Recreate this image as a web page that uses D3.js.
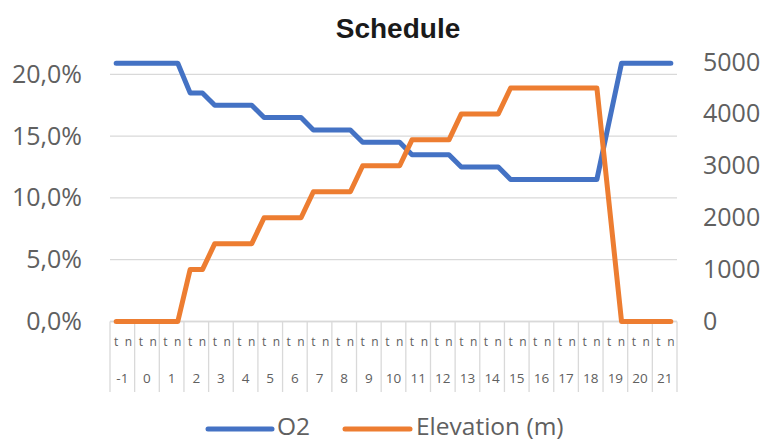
<!DOCTYPE html>
<html>
<head>
<meta charset="utf-8">
<script src="https://cdn.jsdelivr.net/npm/d3@7"></script>
<style>
  html, body { margin: 0; padding: 0; background: #ffffff; }
  svg { display: block; }
</style>
</head>
<body>
<svg id="chart" width="765" height="441"></svg>
<script>
// Group labels (outer category level) and sub-labels (inner level)
const groups = ["-1","0","1","2","3","4","5","6","7","8","9","10","11","12","13","14","15","16","17","18","19","20","21"];
const subs = ["t", "n"];

// O2 fraction per sub-category (null = no value, line bridges it)
const o2 = [
  0.209, 0.209, 0.209, 0.209, 0.209, 0.209,
  0.185, 0.185,
  0.175, 0.175, 0.175, 0.175,
  0.165, 0.165, 0.165, 0.165,
  0.155, 0.155, 0.155, 0.155,
  0.145, 0.145, 0.145, 0.145,
  0.135, 0.135, 0.135, 0.135,
  0.125, 0.125, 0.125, 0.125,
  0.115, 0.115, 0.115, 0.115, 0.115, 0.115, 0.115, 0.115,
  null,
  0.209, 0.209, 0.209, 0.209, 0.209
];

// Elevation in metres per sub-category
const elevation = [
  0, 0, 0, 0, 0, 0,
  1000, 1000,
  1500, 1500, 1500, 1500,
  2000, 2000, 2000, 2000,
  2500, 2500, 2500, 2500,
  3000, 3000, 3000, 3000,
  3500, 3500, 3500, 3500,
  4000, 4000, 4000, 4000,
  4500, 4500, 4500, 4500, 4500, 4500, 4500, 4500,
  null,
  0, 0, 0, 0, 0
];

const leftTicks = [0, 0.05, 0.10, 0.15, 0.20];
const rightTicks = [0, 1000, 2000, 3000, 4000, 5000];

const seriesNames = ["O2", "Elevation (m)"];
const colors = ["#4472C4", "#ED7D31"];

const svg = d3.select("#chart");
const plot = { left: 110, right: 677, top: 62, bottom: 321.5 };

// Flattened category keys: one per (group, sub) pair
const keys = [];
groups.forEach(g => subs.forEach(s => keys.push(g + "|" + s)));

const x = d3.scaleBand().domain(keys).range([plot.left, plot.right]).paddingInner(0).paddingOuter(0);
const xg = d3.scaleBand().domain(groups).range([plot.left, plot.right]).paddingInner(0).paddingOuter(0);
const yL = d3.scaleLinear().domain([0, 0.21]).range([plot.bottom, plot.top]);
const yR = d3.scaleLinear().domain([0, 5000]).range([plot.bottom, plot.top]);

const labelFont = "'Open Sans', 'Noto Sans', sans-serif";
const labelColor = "#606060";
const gridColor = "#d9d9d9";

// Title
svg.append("text")
  .attr("x", 398).attr("y", 38)
  .attr("text-anchor", "middle")
  .attr("font-family", "'Liberation Sans', Arial, sans-serif")
  .attr("font-weight", "bold")
  .attr("font-size", 28)
  .attr("fill", "#1a1a1a")
  .text("Schedule");

// Horizontal gridlines from the left axis
svg.append("g")
  .selectAll("line")
  .data(leftTicks)
  .join("line")
  .attr("x1", plot.left).attr("x2", plot.right)
  .attr("y1", d => yL(d)).attr("y2", d => yL(d))
  .attr("stroke", gridColor).attr("stroke-width", 1.3);

// Left axis labels
const fmtPct = v => d3.format(".1f")(v * 100).replace(".", ",") + "%";
const leftAxis = d3.axisLeft(yL).tickValues(leftTicks).tickFormat(fmtPct).tickSize(0).tickPadding(28);
const gL = svg.append("g").attr("transform", `translate(${plot.left},0)`).call(leftAxis);
gL.select(".domain").remove();
gL.selectAll("text")
  .attr("font-family", labelFont).attr("font-size", 25).attr("fill", labelColor);

// Right axis labels
const rightAxis = d3.axisRight(yR).tickValues(rightTicks).tickFormat(d3.format("d")).tickSize(0).tickPadding(26);
const gR = svg.append("g").attr("transform", `translate(${plot.right},0)`).call(rightAxis);
gR.select(".domain").remove();
gR.selectAll("text")
  .attr("font-family", labelFont).attr("font-size", 25).attr("fill", labelColor);

// Multi-level category axis: separators between groups
const sepX = groups.map(g => xg(g)).concat([plot.right]);
svg.append("g")
  .selectAll("line")
  .data(sepX)
  .join("line")
  .attr("x1", d => d).attr("x2", d => d)
  .attr("y1", plot.bottom).attr("y2", 392)
  .attr("stroke", gridColor).attr("stroke-width", 1.3);

// Inner level labels
svg.append("g")
  .selectAll("text")
  .data(keys)
  .join("text")
  .attr("x", d => x(d) + x.bandwidth() / 2)
  .attr("y", 346)
  .attr("text-anchor", "middle")
  .attr("font-family", labelFont).attr("font-size", 12).attr("fill", labelColor)
  .text(d => d.split("|")[1]);

// Outer level labels
svg.append("g")
  .selectAll("text")
  .data(groups)
  .join("text")
  .attr("x", d => xg(d) + xg.bandwidth() / 2)
  .attr("y", 383)
  .attr("text-anchor", "middle")
  .attr("font-family", labelFont).attr("font-size", 13.5).attr("fill", labelColor)
  .text(d => d);

// Category axis baseline
svg.append("line")
  .attr("x1", plot.left).attr("x2", plot.right)
  .attr("y1", plot.bottom).attr("y2", plot.bottom)
  .attr("stroke", gridColor).attr("stroke-width", 1.3);

// Series lines
const cx = i => x(keys[i]) + x.bandwidth() / 2;
function seriesPath(values, yScale) {
  const pts = values.map((v, i) => [i, v]).filter(d => d[1] !== null);
  return d3.line().x(d => cx(d[0])).y(d => yScale(d[1]))(pts);
}

svg.append("path")
  .attr("d", seriesPath(o2, yL))
  .attr("fill", "none").attr("stroke", colors[0]).attr("stroke-width", 5)
  .attr("stroke-linejoin", "round").attr("stroke-linecap", "round");

svg.append("path")
  .attr("d", seriesPath(elevation, yR))
  .attr("fill", "none").attr("stroke", colors[1]).attr("stroke-width", 5)
  .attr("stroke-linejoin", "round").attr("stroke-linecap", "round");

// Legend
const legend = [
  { name: seriesNames[0], color: colors[0], x1: 208, x2: 272, tx: 277 },
  { name: seriesNames[1], color: colors[1], x1: 345, x2: 410, tx: 416 }
];
const lg = svg.append("g");
lg.selectAll("line")
  .data(legend)
  .join("line")
  .attr("x1", d => d.x1).attr("x2", d => d.x2)
  .attr("y1", 429).attr("y2", 429)
  .attr("stroke", d => d.color).attr("stroke-width", 5).attr("stroke-linecap", "round");
lg.selectAll("text")
  .data(legend)
  .join("text")
  .attr("x", d => d.tx).attr("y", 435)
  .attr("font-family", labelFont).attr("font-size", 24.5).attr("fill", labelColor)
  .text(d => d.name);
</script>
</body>
</html>
